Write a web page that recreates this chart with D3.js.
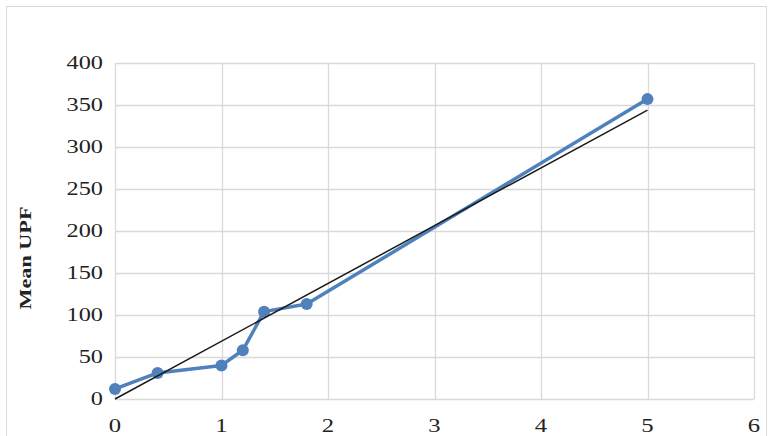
<!DOCTYPE html>
<html>
<head>
<meta charset="utf-8">
<script src="https://cdn.jsdelivr.net/npm/d3@7"></script>
<style>
  body { margin: 0; background: #fff; }
  svg { display: block; }
</style>
</head>
<body>
<svg id="chart" width="770" height="436"></svg>
<script>
const xValues = [0, 0.4, 1, 1.2, 1.4, 1.8, 5]
const upfValues = [12, 31, 40, 58, 104, 113, 357]
const xTicks = [0, 1, 2, 3, 4, 5, 6]
const yTicks = [0, 50, 100, 150, 200, 250, 300, 350, 400]

const svg = d3.select('#chart')
const width = 770
const height = 436
const margin = { top: 63, right: 16, bottom: 37, left: 115 }
const serif = 'Liberation Serif, Times New Roman, serif'

// outer chart frame
svg.append('rect')
  .attr('x', 6.5).attr('y', 6.5)
  .attr('width', width - 10).attr('height', height + 20)
  .attr('fill', '#fff')
  .attr('stroke', '#d9d9d9')

const x = d3.scaleLinear().domain([0, 6]).range([margin.left, width - margin.right])
const y = d3.scaleLinear().domain([0, 400]).range([height - margin.bottom, margin.top])

// gridlines
svg.append('g')
  .selectAll('line')
  .data(yTicks)
  .join('line')
  .attr('x1', x(0)).attr('x2', x(6))
  .attr('y1', d => Math.round(y(d)) + 0.5).attr('y2', d => Math.round(y(d)) + 0.5)
  .attr('stroke', '#d9d9d9')
  .attr('stroke-width', 1.3)

svg.append('g')
  .selectAll('line')
  .data(xTicks)
  .join('line')
  .attr('x1', d => Math.round(x(d)) + 0.5).attr('x2', d => Math.round(x(d)) + 0.5)
  .attr('y1', y(0)).attr('y2', y(400))
  .attr('stroke', '#d9d9d9')
  .attr('stroke-width', 1.3)

// tick labels (the source font is drawn wide, so stretch it a bit)
svg.append('g')
  .selectAll('text')
  .data(yTicks)
  .join('text')
  .attr('transform', d => `translate(${x(0) - 12},${y(d) + 6}) scale(1.35,1)`)
  .attr('text-anchor', 'end')
  .attr('font-family', serif)
  .attr('font-size', 18)
  .attr('fill', '#222')
  .text(d => d)

svg.append('g')
  .selectAll('text')
  .data(xTicks)
  .join('text')
  .attr('transform', d => `translate(${x(d)},${y(0) + 33}) scale(1.3,1)`)
  .attr('text-anchor', 'middle')
  .attr('font-family', serif)
  .attr('font-size', 19)
  .attr('fill', '#222')
  .text(d => d)

// axis title
svg.append('text')
  .attr('transform', 'translate(31, 258) rotate(-90)')
  .attr('text-anchor', 'middle')
  .attr('font-family', serif)
  .attr('font-weight', 'bold')
  .attr('font-size', 17)
  .attr('textLength', 103)
  .attr('lengthAdjust', 'spacingAndGlyphs')
  .attr('fill', '#222')
  .text('Mean UPF')

// data line
const pts = xValues.map((v, i) => [v, upfValues[i]])
svg.append('path')
  .datum(pts)
  .attr('fill', 'none')
  .attr('stroke', '#4f81bd')
  .attr('stroke-width', 3.5)
  .attr('stroke-linejoin', 'round')
  .attr('d', d3.line().x(d => x(d[0])).y(d => y(d[1])))

svg.append('g')
  .selectAll('circle')
  .data(pts)
  .join('circle')
  .attr('cx', d => x(d[0]))
  .attr('cy', d => y(d[1]))
  .attr('r', 6)
  .attr('fill', '#4f81bd')

// linear trendline through the origin
const slope = d3.sum(pts, d => d[0] * d[1]) / d3.sum(pts, d => d[0] * d[0])
const xMax = d3.max(xValues)
svg.append('line')
  .attr('x1', x(0)).attr('y1', y(0))
  .attr('x2', x(xMax)).attr('y2', y(slope * xMax))
  .attr('stroke', '#1a1a1a')
  .attr('stroke-width', 1.5)
</script>
</body>
</html>
